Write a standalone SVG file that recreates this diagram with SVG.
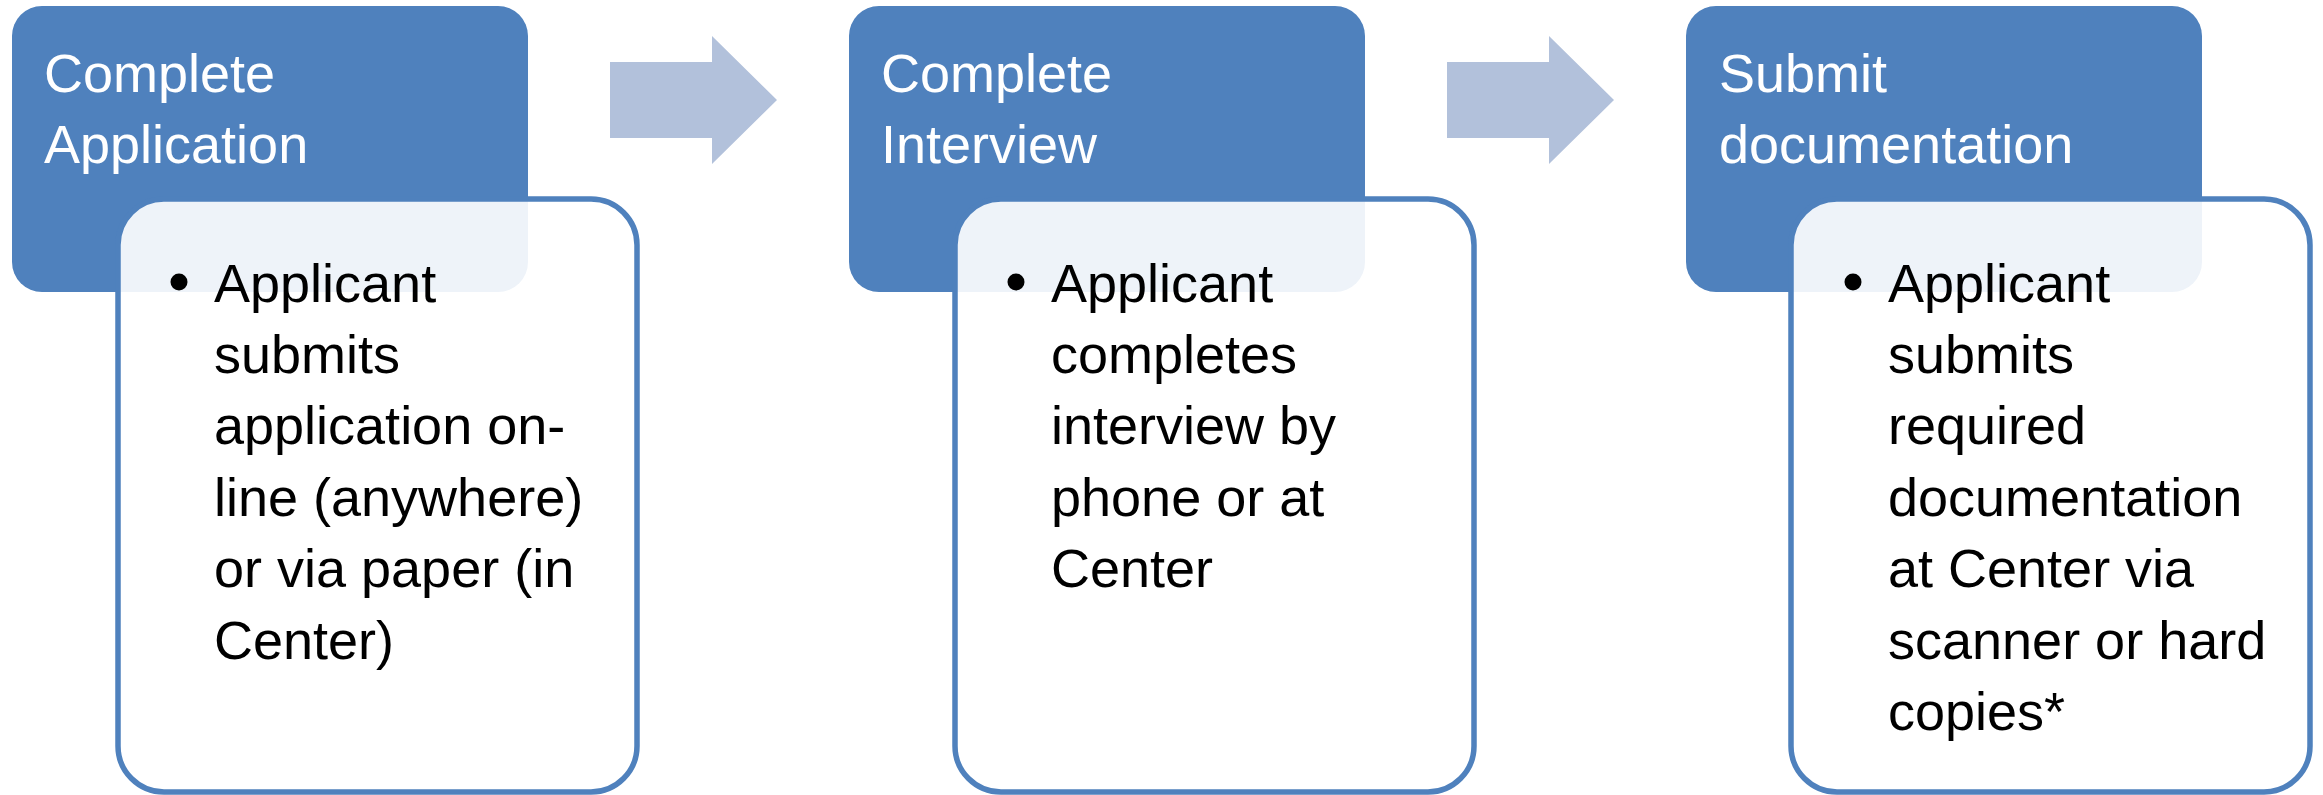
<svg xmlns="http://www.w3.org/2000/svg" width="2323" height="795" viewBox="0 0 2323 795">
<style>
.hdr{fill:#4F81BD;}
.det{fill:#FFFFFF;fill-opacity:0.9;stroke:#4F81BD;stroke-width:5.5;}
.arr{fill:#B2C1DB;}
.ttl{font-family:"Liberation Sans",Arial,sans-serif;font-size:54px;fill:#FFFFFF;}
.body{font-family:"Liberation Sans",Arial,sans-serif;font-size:54px;fill:#000000;}
.bul{fill:#000000;}
</style>
<rect width="2323" height="795" fill="#FFFFFF"/>
<g id="connectors">
<polygon class="arr" points="610,62 712,62 712,36 777,100 712,164 712,138 610,138"/>
<polygon class="arr" points="1447,62 1549,62 1549,36 1614,100 1549,164 1549,138 1447,138"/>
</g>
<g id="node1">
<rect class="hdr" x="12" y="6" width="516" height="286" rx="30" ry="30"/>
<text class="ttl" x="44" y="92">Complete</text>
<text class="ttl" x="44" y="163">Application</text>
<rect class="det" x="118" y="199" width="519" height="593" rx="46" ry="46"/>
<circle class="bul" cx="179" cy="282" r="8.5"/>
<text class="body"><tspan x="214" y="302">Applicant</tspan><tspan x="214" y="373">submits</tspan><tspan x="214" y="444">application on-</tspan><tspan x="214" y="516">line (anywhere)</tspan><tspan x="214" y="587">or via paper (in</tspan><tspan x="214" y="659">Center)</tspan></text>
</g>
<g id="node2">
<rect class="hdr" x="849" y="6" width="516" height="286" rx="30" ry="30"/>
<text class="ttl" x="881" y="92">Complete</text>
<text class="ttl" x="881" y="163">Interview</text>
<rect class="det" x="955" y="199" width="519" height="593" rx="46" ry="46"/>
<circle class="bul" cx="1016" cy="282" r="8.5"/>
<text class="body"><tspan x="1051" y="302">Applicant</tspan><tspan x="1051" y="373">completes</tspan><tspan x="1051" y="444">interview by</tspan><tspan x="1051" y="516">phone or at</tspan><tspan x="1051" y="587">Center</tspan></text>
</g>
<g id="node3">
<rect class="hdr" x="1686" y="6" width="516" height="286" rx="30" ry="30"/>
<text class="ttl" x="1719" y="92">Submit</text>
<text class="ttl" x="1719" y="163">documentation</text>
<rect class="det" x="1791" y="199" width="519" height="593" rx="46" ry="46"/>
<circle class="bul" cx="1853" cy="282" r="8.5"/>
<text class="body"><tspan x="1888" y="302">Applicant</tspan><tspan x="1888" y="373">submits</tspan><tspan x="1888" y="444">required</tspan><tspan x="1888" y="516">documentation</tspan><tspan x="1888" y="587">at Center via</tspan><tspan x="1888" y="659">scanner or hard</tspan><tspan x="1888" y="730">copies*</tspan></text>
</g>
</svg>
